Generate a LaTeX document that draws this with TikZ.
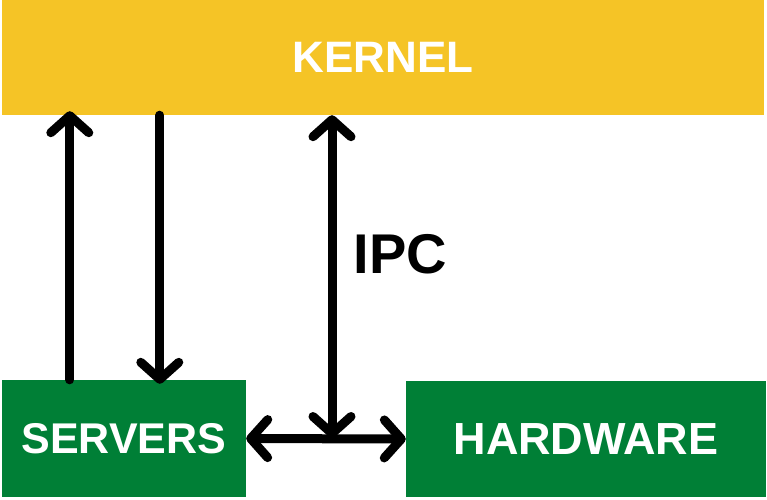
\documentclass[tikz,border=0pt]{standalone}
\usepackage{fontspec}
\setmainfont{Liberation Sans}
\usetikzlibrary{arrows.meta,calc}

\definecolor{kernelyellow}{HTML}{F5C426}
\definecolor{boxgreen}{HTML}{007F36}

\tikzset{
  box/.style={draw=none, inner sep=0pt, text=white, font=\bfseries},
  barb/.tip={Straight Barb[length=17pt,width=38pt,line cap=round,line join=round]},
  arr/.style={line width=9pt, line cap=round, -barb},
  darr/.style={line width=9pt, line cap=round, barb-barb}
}

\begin{document}
\begin{tikzpicture}[x=1pt,y=-1pt]
\useasboundingbox (0,0) rectangle (767,499);
%\draw[help lines,step=50] (0,0) grid (767,499);

\node[box, fill=kernelyellow, minimum width=762pt, minimum height=115pt, font=\bfseries\fontsize{44}{48}\selectfont] (kernel) at (383,57.5) {KERNEL};
\node[box, fill=boxgreen, minimum width=244pt, minimum height=117pt, font=\bfseries\fontsize{43}{46}\selectfont] (servers) at (124,438.5) {SERVERS};
\node[box, fill=boxgreen, minimum width=360pt, minimum height=116pt, font=\bfseries\fontsize{45}{48}\selectfont] (hardware) at (586,439) {HARDWARE};

% servers <-> kernel
\draw[arr] ([xshift=68pt]servers.north west) -- ([xshift=68pt,yshift=4pt]servers.north west |- kernel.south);
\draw[arr] ([xshift=158pt]servers.north west |- kernel.south) -- ([xshift=158pt,yshift=-4pt]servers.north west);

% servers <-> hardware, ipc to kernel
\draw[darr] (servers.east) -- (hardware.west);
\coordinate (ipcjoin) at (332,438);
\draw[darr] (ipcjoin) -- (ipcjoin |- kernel.south) node[pos=0.57, right=14pt, font=\bfseries\fontsize{56}{60}\selectfont] (ipc) {IPC};
\end{tikzpicture}
\end{document}
